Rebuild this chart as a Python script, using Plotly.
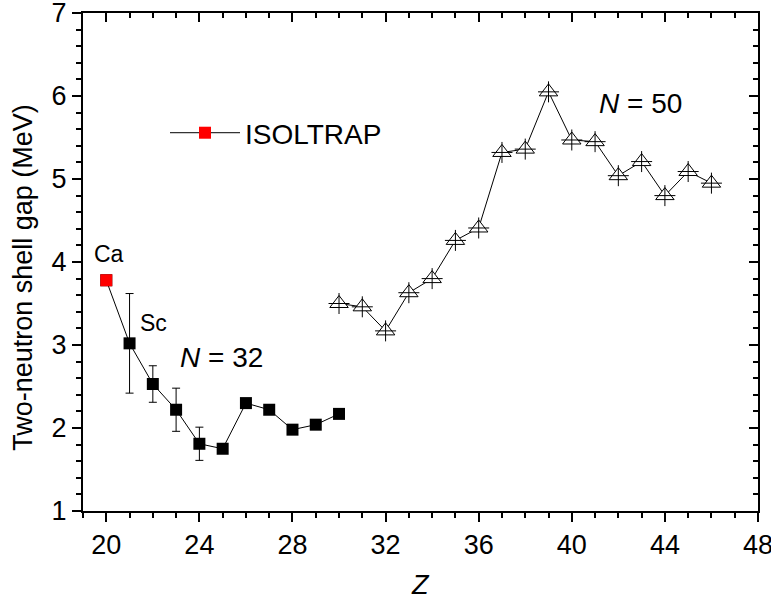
import plotly.graph_objects as go

# N = 32 isotones (black squares)
z_n32 = [20, 21, 22, 23, 24, 25, 26, 27, 28, 29, 30]
gap_n32 = [3.78, 3.02, 2.53, 2.22, 1.81, 1.75, 2.30, 2.22, 1.98, 2.04, 2.17]
err_n32 = [0.03, 0.60, 0.22, 0.26, 0.20, 0.0, 0.0, 0.0, 0.0, 0.0, 0.0]

# ISOLTRAP point (Ca)
z_iso = [20]
gap_iso = [3.78]
err_iso = [0.03]

# N = 50 isotones (triangles)
z_n50 = [30, 31, 32, 33, 34, 35, 36, 37, 38, 39, 40, 41, 42, 43, 44, 45, 46]
gap_n50 = [3.50, 3.46, 3.17, 3.63, 3.80, 4.26, 4.41, 5.32, 5.36, 6.05,
           5.47, 5.45, 5.04, 5.21, 4.80, 5.09, 4.95]

x_range = [19, 48]
y_range = [1, 7]

FONT = "Liberation Sans, Arial, sans-serif"

fig = go.Figure()

fig.add_trace(go.Scatter(
    x=z_n32, y=gap_n32, mode="lines+markers",
    line=dict(color="black", width=1),
    marker=dict(symbol="square", size=12, color="black"),
    error_y=dict(type="data", array=err_n32, color="black", thickness=1, width=4),
    showlegend=False, hoverinfo="skip"))

fig.add_trace(go.Scatter(
    x=z_n50, y=gap_n50, mode="lines+markers",
    line=dict(color="black", width=1),
    marker=dict(symbol="triangle-up", size=16, color="white",
                line=dict(color="black", width=1)),
    showlegend=False, hoverinfo="skip"))

fig.add_trace(go.Scatter(
    x=z_n50, y=gap_n50, mode="markers",
    marker=dict(symbol="cross-thin-open", size=15, color="black",
                line=dict(color="black", width=1)),
    showlegend=False, hoverinfo="skip"))

fig.add_trace(go.Scatter(
    x=z_iso, y=gap_iso, mode="lines+markers", name="ISOLTRAP",
    line=dict(color="black", width=1),
    marker=dict(symbol="square", size=12, color="red"),
    error_y=dict(type="data", array=err_iso, color="black", thickness=1, width=4),
    hoverinfo="skip"))

# dummy trace to create the mirrored (top / right) axes
fig.add_trace(go.Scatter(
    x=[x_range[0]], y=[y_range[0]], xaxis="x2", yaxis="y2",
    mode="markers", marker=dict(opacity=0), showlegend=False, hoverinfo="skip"))

tickfont = dict(family=FONT, size=27, color="black")

fig.update_layout(
    width=771, height=603,
    margin=dict(l=83, r=13, t=13, b=92),
    paper_bgcolor="white", plot_bgcolor="white",
    font=dict(family=FONT, color="black"),
    xaxis=dict(range=x_range, dtick=4, tick0=20, showgrid=False, zeroline=False,
               automargin=False, ticklabeloverflow="allow",
               showline=True, linecolor="black", linewidth=2,
               ticks="outside", ticklen=9, tickwidth=2, tickcolor="black",
               tickfont=tickfont,
               minor=dict(dtick=1, tick0=19, ticks="outside", ticklen=5,
                          tickwidth=1.5, tickcolor="black", showgrid=False)),
    yaxis=dict(range=y_range, dtick=1, showgrid=False, zeroline=False,
               automargin=False, ticklabeloverflow="allow",
               showline=True, linecolor="black", linewidth=2,
               ticks="outside", ticklen=9, tickwidth=2, tickcolor="black",
               tickfont=tickfont,
               minor=dict(dtick=0.2, ticks="outside", ticklen=5,
                          tickwidth=1.5, tickcolor="black", showgrid=False)),
    xaxis2=dict(range=x_range, overlaying="x", side="top", dtick=4, tick0=20,
                showgrid=False, zeroline=False, showticklabels=False, automargin=False,
                showline=True, linecolor="black", linewidth=2,
                ticks="inside", ticklen=9, tickwidth=2, tickcolor="black",
                minor=dict(dtick=1, tick0=19, ticks="inside", ticklen=5,
                           tickwidth=1.5, tickcolor="black", showgrid=False)),
    yaxis2=dict(range=y_range, overlaying="y", side="right", dtick=1,
                showgrid=False, zeroline=False, showticklabels=False, automargin=False,
                showline=True, linecolor="black", linewidth=2,
                ticks="inside", ticklen=9, tickwidth=2, tickcolor="black",
                minor=dict(dtick=0.2, ticks="inside", ticklen=5,
                           tickwidth=1.5, tickcolor="black", showgrid=False)),
    legend=dict(x=0.1215, y=0.759, xanchor="left", yanchor="middle", itemwidth=70,
                bgcolor="rgba(0,0,0,0)", font=dict(family=FONT, size=28, color="black")),
    annotations=[
        dict(text="Two-neutron shell gap (MeV)", textangle=-90, xref="paper", yref="paper",
             x=-0.089, y=0.47, xanchor="center", yanchor="middle", showarrow=False,
             font=dict(family=FONT, size=27, color="black")),
        dict(text="<i>Z</i>", xref="paper", yref="paper", x=0.5, y=-0.149,
             xanchor="center", yanchor="middle",
             showarrow=False, font=dict(family=FONT, size=27, color="black")),
        dict(text="Ca", xref="x", yref="y", x=20.1, y=4.1, showarrow=False,
             font=dict(family=FONT, size=23, color="black")),
        dict(text="Sc", xref="x", yref="y", x=22.05, y=3.27, showarrow=False,
             font=dict(family=FONT, size=23, color="black")),
        dict(text="<i>N</i> = 32", xref="x", yref="y", x=24.97, y=2.85, showarrow=False,
             font=dict(family=FONT, size=28, color="black")),
        dict(text="<i>N</i> = 50", xref="x", yref="y", x=42.96, y=5.91, showarrow=False,
             font=dict(family=FONT, size=28, color="black")),
    ],
)

fig.write_html("out.html", config={"displayModeBar": False},
               post_script="document.body.style.margin='0';")
